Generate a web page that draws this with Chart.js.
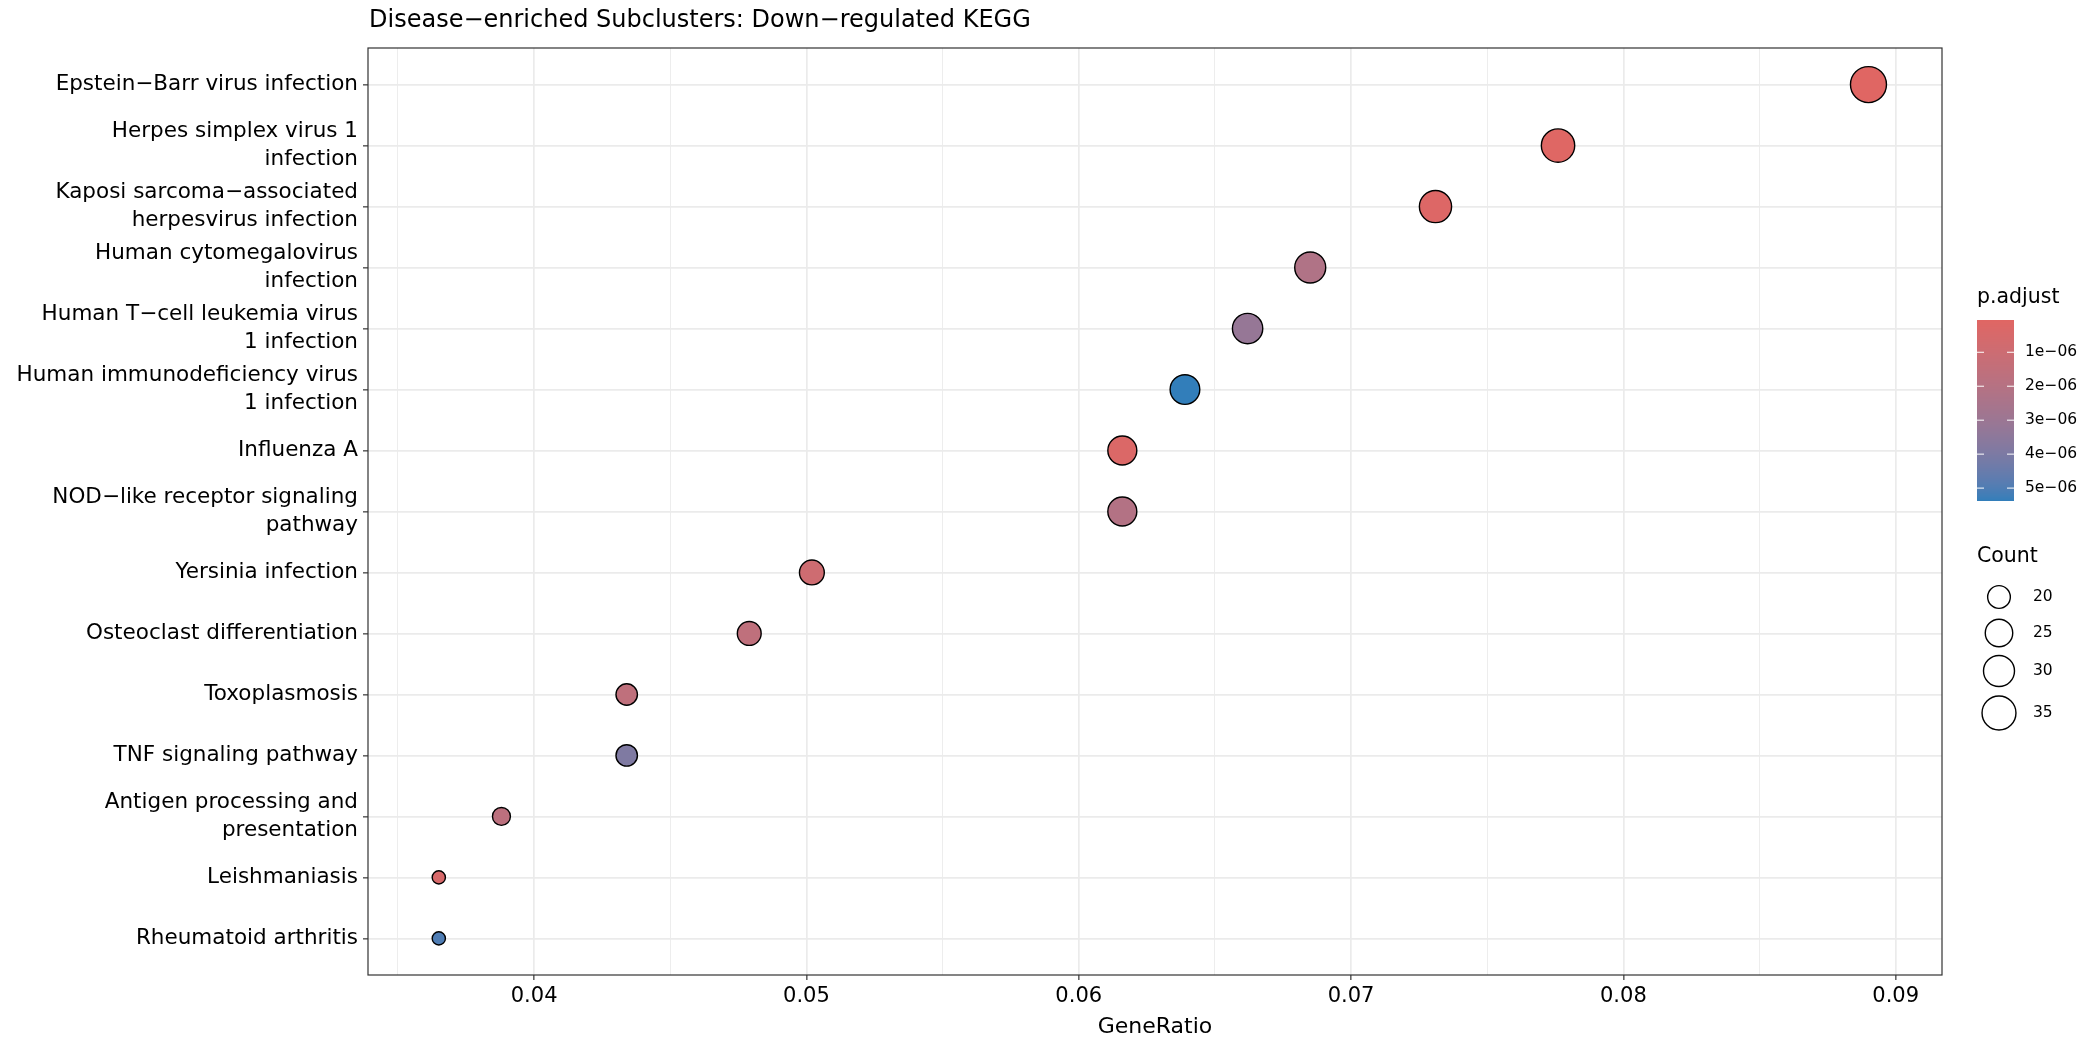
<!DOCTYPE html>
<html>
<head>
<meta charset="utf-8">
<script src="https://cdn.jsdelivr.net/npm/chart.js@4.4.1/dist/chart.umd.min.js"></script>
<style>
  html, body { margin: 0; padding: 0; background: #fff; }
  #wrap { width: 2100px; height: 1050px; }
</style>
</head>
<body>
<div id="wrap"><canvas id="dotplot" width="2100" height="1050"></canvas></div>
<script>
// KEGG terms, top to bottom
const pathways = [
  "Epstein\u2212Barr virus infection",
  ["Herpes simplex virus 1", "infection"],
  ["Kaposi sarcoma\u2212associated", "herpesvirus infection"],
  ["Human cytomegalovirus", "infection"],
  ["Human T\u2212cell leukemia virus", "1 infection"],
  ["Human immunodeficiency virus", "1 infection"],
  "Influenza A",
  ["NOD\u2212like receptor signaling", "pathway"],
  "Yersinia infection",
  "Osteoclast differentiation",
  "Toxoplasmosis",
  "TNF signaling pathway",
  ["Antigen processing and", "presentation"],
  "Leishmaniasis",
  "Rheumatoid arthritis"
];
const geneRatio = [0.0890, 0.0776, 0.0731, 0.0685, 0.0662, 0.0639, 0.0616, 0.0616,
                   0.0502, 0.0479, 0.0434, 0.0434, 0.0388, 0.0365, 0.0365];
const geneCount = [39, 34, 32, 30, 29, 28, 27, 27, 22, 21, 19, 19, 17, 16, 16];
const pAdjust = [5e-8, 1.2e-7, 2.2e-7, 2.2e-6, 3.2e-6, 5.38e-6, 3e-7, 2.1e-6,
                 9e-7, 1.6e-6, 1.6e-6, 3.9e-6, 1.7e-6, 5e-7, 5.0e-6];

const xMajorTicks = [0.04, 0.05, 0.06, 0.07, 0.08, 0.09];
const xMinorTicks = [0.035, 0.045, 0.055, 0.065, 0.075, 0.085];
const pLegendTicks = [1e-6, 2e-6, 3e-6, 4e-6, 5e-6];
const pLegendLabels = ["1e\u221206", "2e\u221206", "3e\u221206", "4e\u221206", "5e\u221206"];
const countLegend = [20, 25, 30, 35];

const FONT = "'DejaVu Sans', sans-serif";
const lowColor = "#e06663", highColor = "#327eba";

// colour interpolation in Lab, like ggplot's gradient
function hexToRgb(h) {
  return [1, 3, 5].map(i => parseInt(h.substr(i, 2), 16));
}
function rgbToLab(c) {
  let [r, g, b] = c.map(v => {
    v /= 255;
    return v > 0.04045 ? Math.pow((v + 0.055) / 1.055, 2.4) : v / 12.92;
  });
  let x = (r * 0.4124 + g * 0.3576 + b * 0.1805) / 0.95047;
  let y = (r * 0.2126 + g * 0.7152 + b * 0.0722);
  let z = (r * 0.0193 + g * 0.1192 + b * 0.9505) / 1.08883;
  const f = t => t > 0.008856 ? Math.cbrt(t) : 7.787 * t + 16 / 116;
  x = f(x); y = f(y); z = f(z);
  return [116 * y - 16, 500 * (x - y), 200 * (y - z)];
}
function labToRgb(l) {
  let y = (l[0] + 16) / 116, x = l[1] / 500 + y, z = y - l[2] / 200;
  const f = t => t * t * t > 0.008856 ? t * t * t : (t - 16 / 116) / 7.787;
  x = f(x) * 0.95047; y = f(y); z = f(z) * 1.08883;
  let r = x * 3.2406 + y * -1.5372 + z * -0.4986;
  let g = x * -0.9689 + y * 1.8758 + z * 0.0415;
  let b = x * 0.0557 + y * -0.2040 + z * 1.0570;
  return [r, g, b].map(v => {
    v = v > 0.0031308 ? 1.055 * Math.pow(v, 1 / 2.4) - 0.055 : 12.92 * v;
    return Math.round(Math.max(0, Math.min(1, v)) * 255);
  });
}
const labLow = rgbToLab(hexToRgb(lowColor));
const labHigh = rgbToLab(hexToRgb(highColor));
const pMin = Math.min(...pAdjust), pMax = Math.max(...pAdjust);
function pColor(p) {
  const t = (p - pMin) / (pMax - pMin);
  const lab = labLow.map((v, i) => v + (labHigh[i] - v) * t);
  const c = labToRgb(lab);
  return "rgb(" + c.join(",") + ")";
}

// size scale (area)
const cMin = Math.min(...geneCount), cMax = Math.max(...geneCount);
function countRadius(c) {
  return 7.3 + 11.4 * Math.sqrt((c - cMin) / (cMax - cMin));
}

const points = geneRatio.map((v, i) => ({ x: v, y: i }));

const panelPlugin = {
  id: "panelPlugin",
  afterDraw(chart) {
    const ctx = chart.ctx;
    const a = chart.chartArea;
    ctx.save();
    // panel border
    ctx.strokeStyle = "#333333";
    ctx.lineWidth = 1.2;
    ctx.strokeRect(a.left, a.top, a.right - a.left, a.bottom - a.top);

    // title
    ctx.fillStyle = "#000";
    ctx.font = "24px " + FONT;
    ctx.textAlign = "left";
    ctx.textBaseline = "middle";
    ctx.fillText("Disease\u2212enriched Subclusters: Down\u2212regulated KEGG", a.left + 1, 21);

    // colour bar
    const bx = 1977, bw = 37, by = 320, bh = 181;
    for (let k = 0; k < bh; k++) {
      const p = pMin + (pMax - pMin) * (k + 0.5) / bh;
      ctx.fillStyle = pColor(p);
      ctx.fillRect(bx, by + k, bw, 1);
    }
    ctx.font = "20.5px " + FONT;
    ctx.fillStyle = "#000";
    ctx.fillText("p.adjust", bx, 298);
    ctx.font = "15.5px " + FONT;
    pLegendTicks.forEach((p, i) => {
      const y = by + (p - pMin) / (pMax - pMin) * bh;
      ctx.strokeStyle = "#fff";
      ctx.lineWidth = 1;
      ctx.beginPath();
      ctx.moveTo(bx, y); ctx.lineTo(bx + 7, y);
      ctx.moveTo(bx + bw - 7, y); ctx.lineTo(bx + bw, y);
      ctx.stroke();
      ctx.fillStyle = "#000";
      ctx.fillText(pLegendLabels[i], 2025, y);
    });

    // size legend
    ctx.font = "20.5px " + FONT;
    ctx.fillText("Count", bx, 557);
    const ys = [597, 633, 671, 713];
    ctx.font = "15.5px " + FONT;
    countLegend.forEach((c, i) => {
      ctx.beginPath();
      ctx.arc(1999, ys[i], countRadius(c) - 0.7, 0, Math.PI * 2);
      ctx.fillStyle = "#fff";
      ctx.fill();
      ctx.strokeStyle = "#000";
      ctx.lineWidth = 1.4;
      ctx.stroke();
      ctx.fillStyle = "#000";
      ctx.fillText(String(c), 2033, ys[i]);
    });
    ctx.restore();
  }
};

const xAllTicks = xMinorTicks.concat(xMajorTicks).sort((a, b) => a - b);

new Chart(document.getElementById("dotplot").getContext("2d"), {
  type: "scatter",
  data: {
    datasets: [{
      label: "Count",
      data: points,
      pointRadius: ctx => countRadius(geneCount[ctx.dataIndex]) - 0.7,
      pointHoverRadius: ctx => countRadius(geneCount[ctx.dataIndex]) - 0.7,
      pointBackgroundColor: ctx => pColor(pAdjust[ctx.dataIndex]),
      pointBorderColor: "#000",
      pointBorderWidth: 1.4,
    }],
  },
  options: {
    responsive: false,
    animation: false,
    layout: { padding: { top: 48, right: 158, bottom: 0, left: 0 } },
    plugins: {
      legend: { display: false },
      tooltip: { enabled: false },
    },
    scales: {
      x: {
        type: "linear",
        min: 0.0339,
        max: 0.0917,
        afterBuildTicks: scale => {
          scale.ticks = xAllTicks.map(v => ({ value: v }));
        },
        afterFit: scale => { scale.height = 75; },
        border: { display: false },
        grid: {
          color: "#ebebeb",
          lineWidth: c => (xMajorTicks.includes(c.tick.value) ? 1.7 : 0.9),
          tickColor: c => (xMajorTicks.includes(c.tick.value) ? "#333333" : "rgba(0,0,0,0)"),
          tickLength: 5,
          tickWidth: 1.2,
        },
        ticks: {
          color: "#000",
          padding: 4,
          maxRotation: 0,
          autoSkip: false,
          font: { size: 21, family: FONT },
          callback: v => (xMajorTicks.includes(v) ? v.toFixed(2) : ""),
        },
        title: {
          display: true,
          text: "GeneRatio",
          color: "#000",
          font: { size: 22, family: FONT },
          padding: { top: 0, bottom: 10 },
        },
      },
      y: {
        type: "linear",
        reverse: true,
        min: -0.6,
        max: pathways.length - 1 + 0.6,
        afterBuildTicks: scale => {
          scale.ticks = pathways.map((p, i) => ({ value: i }));
        },
        afterFit: scale => { scale.width = 368; },
        border: { display: false },
        grid: {
          color: "#ebebeb",
          lineWidth: 1.7,
          tickColor: "#333333",
          tickLength: 5,
          tickWidth: 1.2,
        },
        ticks: {
          color: "#000",
          padding: 5,
          autoSkip: false,
          font: { size: 21.5, family: FONT, lineHeight: 1.3 },
          callback: v => pathways[v],
        },
      },
    },
  },
  plugins: [panelPlugin],
});
</script>
</body>
</html>
